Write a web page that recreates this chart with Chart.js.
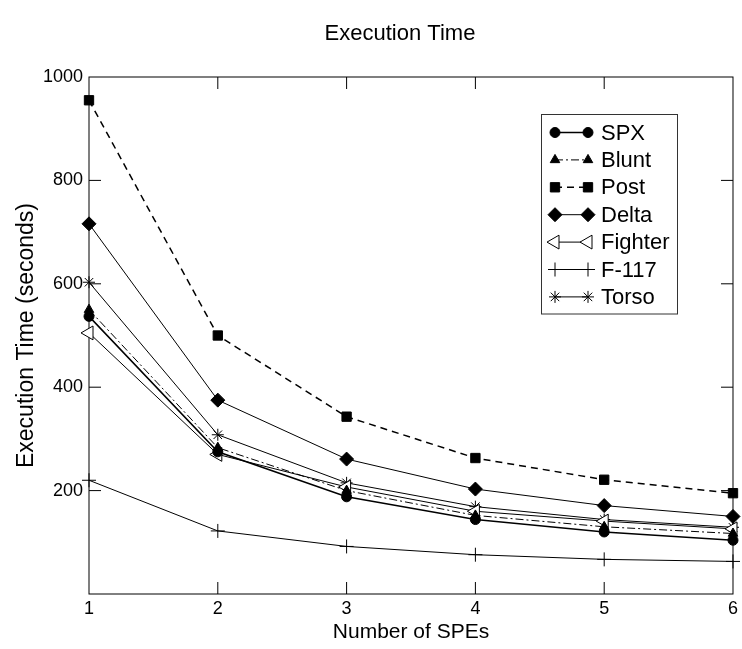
<!DOCTYPE html>
<html><head><meta charset="utf-8">
<script src="https://cdn.jsdelivr.net/npm/chart.js@4/dist/chart.umd.min.js"></script>
<style>html,body{margin:0;padding:0;background:#fff}</style>
</head><body>
<canvas id="c" width="742" height="649"></canvas>
<script>
const categories = ['1', '2', '3', '4', '5', '6'];
const spx     = [537, 275, 188, 144, 120, 104];
const blunt   = [550, 283, 200, 152, 130, 117];
const post    = [955, 500, 343, 263, 221, 195];
const delta   = [716, 375, 261, 203, 171, 150];
const fighter = [505, 270, 207, 160, 141, 126];
const f117    = [220, 122, 92, 76, 67, 63];
const torso   = [603, 308, 215, 169, 144, 129];
const yTickValues = [0, 200, 400, 600, 800, 1000];
const chartTitle = 'Execution Time';
const xTitle = 'Number of SPEs';
const yTitle = 'Execution Time (seconds)';

const FONT = '"Liberation Sans", Arial, sans-serif';

function ds(label, data, style, opts) {
  return Object.assign({
    label, data,
    borderColor: '#000', backgroundColor: '#000',
    pointBackgroundColor: '#000', pointBorderColor: '#000',
    pointStyle: style, pointRadius: 5, pointBorderWidth: 1,
    borderWidth: 1, tension: 0, fill: false, clip: false
  }, opts || {});
}

const datasets = [
  ds('SPX', spx, 'circle', {pointRadius: 5, borderWidth: 1.5}),
  ds('Blunt', blunt, 'triangle', {pointRadius: 5.5, borderDash: [8, 3, 2, 3]}),
  ds('Post', post, 'rect', {pointRadius: 6.6, borderDash: [7, 5], borderWidth: 1.5}),
  ds('Delta', delta, 'rectRot', {pointRadius: 7}),
  ds('Fighter', fighter, 'triangle', {pointRadius: 8, pointRotation: -90, pointBackgroundColor: '#fff'}),
  ds('F-117', f117, 'cross', {pointRadius: 7}),
  ds('Torso', torso, 'star', {pointRadius: 6})
];

function drawMarker(ctx, d, x, y) {
  ctx.save();
  ctx.fillStyle = d.pointBackgroundColor;
  ctx.strokeStyle = d.pointBorderColor;
  ctx.lineWidth = d.pointBorderWidth;
  ctx.setLineDash([]);
  Chart.helpers.drawPoint(ctx, {
    pointStyle: d.pointStyle, rotation: d.pointRotation || 0,
    radius: d.pointRadius, borderWidth: d.pointBorderWidth
  }, x, y);
  ctx.restore();
}

const framePlugin = {
  id: 'frame',
  beforeDatasetsDraw(chart) {
    const {ctx, chartArea: a, scales: {x, y}} = chart;
    ctx.save();
    ctx.strokeStyle = '#000';
    ctx.lineWidth = 1;
    ctx.strokeRect(a.left, a.top, a.right - a.left, a.bottom - a.top);
    const L = 12;
    ctx.beginPath();
    x.ticks.forEach((t, i) => {
      const px = x.getPixelForTick(i);
      if (Math.abs(px - a.left) < 1 || Math.abs(px - a.right) < 1) return;
      ctx.moveTo(px, a.bottom); ctx.lineTo(px, a.bottom - L);
      ctx.moveTo(px, a.top); ctx.lineTo(px, a.top + L);
    });
    y.ticks.forEach((t, i) => {
      const py = y.getPixelForTick(i);
      if (Math.abs(py - a.top) < 1 || Math.abs(py - a.bottom) < 1) return;
      ctx.moveTo(a.left, py); ctx.lineTo(a.left + L, py);
      ctx.moveTo(a.right, py); ctx.lineTo(a.right - L, py);
    });
    ctx.stroke();
    ctx.restore();
  },
  afterDraw(chart) {
    const ctx = chart.ctx;
    // title
    ctx.save();
    ctx.fillStyle = '#000';
    ctx.font = '22px ' + FONT;
    ctx.textAlign = 'center';
    ctx.textBaseline = 'middle';
    ctx.fillText(chartTitle, 400, 34);
    ctx.restore();
    // legend
    const bx = 541.5, by = 114.5, bw = 136, bh = 199.5;
    ctx.save();
    ctx.fillStyle = '#fff';
    ctx.fillRect(bx, by, bw, bh);
    ctx.strokeStyle = '#333';
    ctx.lineWidth = 1;
    ctx.strokeRect(bx, by, bw, bh);
    chart.data.datasets.forEach((d, i) => {
      const yy = 132.5 + i * 27.4;
      ctx.save();
      ctx.strokeStyle = '#000';
      ctx.lineWidth = d.borderWidth;
      ctx.setLineDash(d.borderDash || []);
      ctx.beginPath();
      ctx.moveTo(555, yy); ctx.lineTo(588, yy);
      ctx.stroke();
      ctx.restore();
      drawMarker(ctx, d, 555, yy);
      drawMarker(ctx, d, 588, yy);
      ctx.fillStyle = '#000';
      ctx.font = '22px ' + FONT;
      ctx.textAlign = 'left';
      ctx.textBaseline = 'middle';
      ctx.fillText(d.label, 601, yy + 1);
    });
    ctx.restore();
  }
};

new Chart(document.getElementById('c'), {
  type: 'line',
  data: {labels: categories, datasets},
  options: {
    responsive: false,
    animation: false,
    devicePixelRatio: 1,
    layout: {padding: {top: 77, right: 7, left: 0, bottom: 0}},
    plugins: {legend: {display: false}, title: {display: false}, tooltip: {enabled: false}},
    scales: {
      x: {
        type: 'category',
        offset: false,
        grid: {display: false, drawTicks: false},
        border: {display: false},
        ticks: {color: '#000', font: {family: FONT, size: 18}, padding: 4, maxRotation: 0},
        title: {display: true, text: xTitle, color: '#000', font: {family: FONT, size: 21}, padding: {top: 0, bottom: 4}},
        afterFit(s) { s.height = 55; }
      },
      y: {
        type: 'linear',
        min: 0, max: 1000,
        afterBuildTicks(s) { s.ticks = yTickValues.map(v => ({value: v})); },
        grid: {display: false, drawTicks: false},
        border: {display: false},
        ticks: {color: '#000', font: {family: FONT, size: 18}, padding: 6,
          callback: v => (v === 0 ? '' : String(v))},
        title: {display: true, text: yTitle, color: '#000', font: {family: FONT, size: 23}, padding: {top: 13, bottom: 0}},
        afterFit(s) { s.width = 89; }
      }
    }
  },
  plugins: [framePlugin]
});
</script>
</body></html>
